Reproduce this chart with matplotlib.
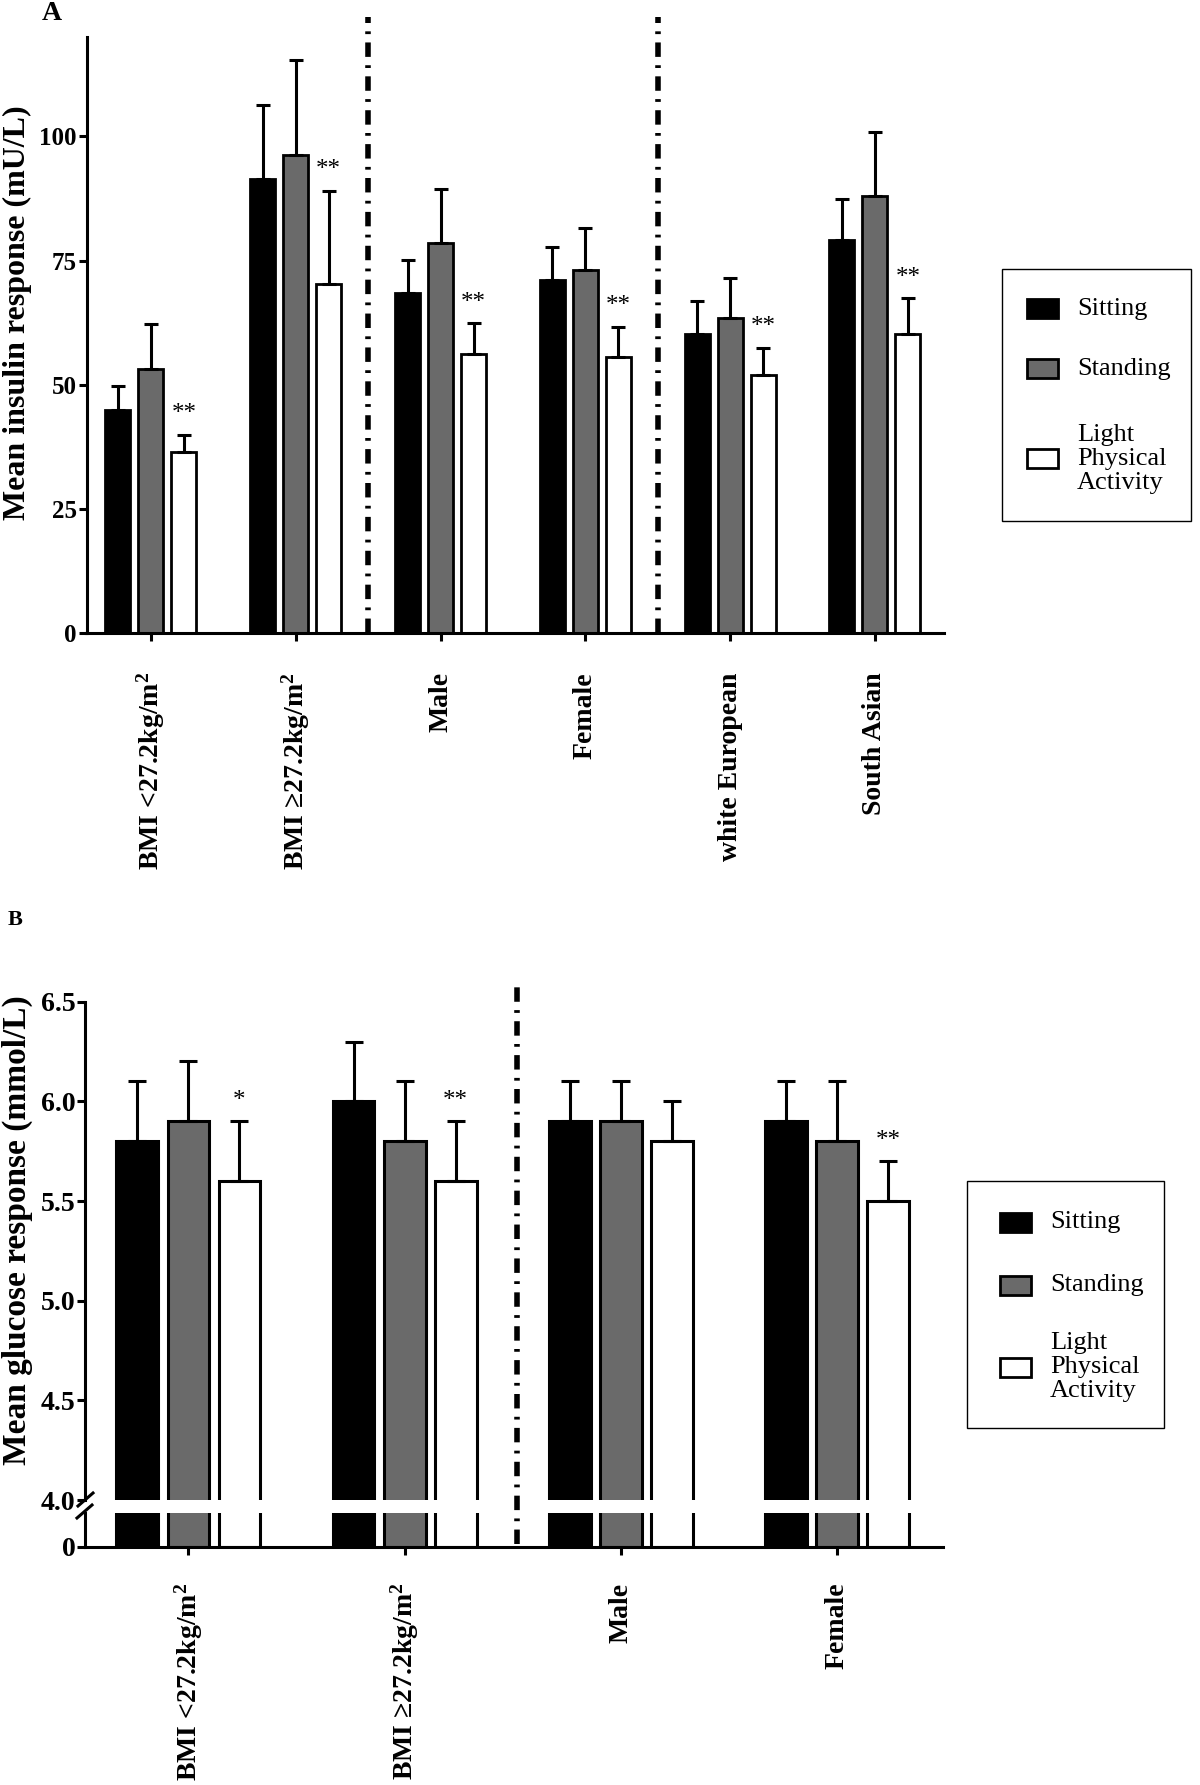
import matplotlib
matplotlib.use('Agg')
import matplotlib.pyplot as plt
import matplotlib.transforms as mtransforms
import numpy as np
from matplotlib.patches import Rectangle
from matplotlib.lines import Line2D

plt.rcParams['font.family'] = ['Liberation Serif', 'DejaVu Serif']
plt.rcParams['mathtext.fontset'] = 'custom'
plt.rcParams['mathtext.rm'] = 'Liberation Serif:bold'
plt.rcParams['mathtext.it'] = 'Liberation Serif:bold'
plt.rcParams['mathtext.bf'] = 'Liberation Serif:bold'

# ---------------- data ----------------
series = ['Sitting', 'Standing', 'Light\nPhysical\nActivity']
colors = ['#000000', '#6a6a6a', '#ffffff']

cats_a = ['BMI <27.2kg/$\\mathrm{m}^{2}$', 'BMI \u226527.2kg/$\\mathrm{m}^{2}$', 'Male', 'Female',
          'white European', 'South Asian']
insulin_sit = [45.0, 91.4, 68.5, 71.0, 60.3, 79.1]
insulin_sit_sem = [4.8, 14.9, 6.6, 6.8, 6.5, 8.2]
insulin_stand = [53.2, 96.2, 78.6, 73.1, 63.4, 88.1]
insulin_stand_sem = [9.1, 19.1, 10.8, 8.5, 8.1, 12.8]
insulin_lpa = [36.5, 70.3, 56.3, 55.7, 52.0, 60.3]
insulin_lpa_sem = [3.5, 18.8, 6.1, 6.0, 5.5, 7.1]
sig_a = ['**', '**', '**', '**', '**', '**']
yticks_a = [0, 25, 50, 75, 100]

cats_b = ['BMI <27.2kg/$\\mathrm{m}^{2}$', 'BMI \u226527.2kg/$\\mathrm{m}^{2}$', 'Male', 'Female']
glucose_sit = [5.8, 6.0, 5.9, 5.9]
glucose_sit_sem = [0.3, 0.3, 0.2, 0.2]
glucose_stand = [5.9, 5.8, 5.9, 5.8]
glucose_stand_sem = [0.3, 0.3, 0.2, 0.3]
glucose_lpa = [5.6, 5.6, 5.8, 5.5]
glucose_lpa_sem = [0.3, 0.3, 0.2, 0.2]
sig_b = ['*', '**', '', '**']
yticks_b = [4.0, 4.5, 5.0, 5.5, 6.0, 6.5]

# ---------------- layout helpers ----------------
W, H = 1200, 1785
fig = plt.figure(figsize=(W / 100, H / 100), dpi=100)


def fx(px):
    return px / W


def fy(py):
    return 1 - py / H


def rect(l, t, r, b):
    return [fx(l), fy(b), fx(r) - fx(l), fy(t) - fy(b)]


LW = 2.2
divider_style = (0, (2.6, 1.5, 0.5, 1.5))


def style_axis(ax, bottom=True):
    for s in ['top', 'right']:
        ax.spines[s].set_visible(False)
    ax.spines['left'].set_linewidth(LW)
    ax.spines['bottom'].set_linewidth(LW)
    if not bottom:
        ax.spines['bottom'].set_visible(False)
    ax.tick_params(direction='out', length=6, width=LW)
    ax.patch.set_alpha(0)


def draw_bars(ax, x, groups, off, width, edge_lw, cap, star_off, star_texts=None):
    for i, (vals, sem) in enumerate(groups):
        xs = x + (i - 1) * off
        ax.bar(xs, vals, width=width, color=colors[i], edgecolor='black',
               linewidth=edge_lw, zorder=2)
        ax.errorbar(xs, vals, yerr=[np.zeros(len(vals)), sem], fmt='none',
                    ecolor='black', elinewidth=LW, capsize=cap, capthick=LW, zorder=3)
        if star_texts is not None and i == 2:
            for xx, v, e, st in zip(xs, vals, sem, star_texts):
                if st:
                    ax.annotate(st, xy=(xx, v + e), xytext=(0, star_off),
                                textcoords='offset points', ha='center',
                                va='baseline', fontsize=18, clip_on=False)


def draw_legend(box, patch_x, text_x, centers):
    x0, y0, x1, y1 = box
    fig.add_artist(Rectangle((fx(x0), fy(y1)), fx(x1) - fx(x0), fy(y0) - fy(y1),
                             transform=fig.transFigure, fill=False,
                             edgecolor='black', linewidth=1.0))
    for name, col, cy in zip(series, colors, centers):
        fig.add_artist(Rectangle((fx(patch_x), fy(cy + 9.5)), 31 / W, 19 / H,
                                 transform=fig.transFigure, facecolor=col,
                                 edgecolor='black', linewidth=2.0))
        fig.text(fx(text_x), fy(cy), name, ha='left', va='center',
                 fontsize=19, linespacing=1.12)


# ---------------- Panel A ----------------
axA = fig.add_axes(rect(86.5, 37, 944, 633.3))
xa = np.arange(len(cats_a))
draw_bars(axA, xa,
          [(insulin_sit, insulin_sit_sem), (insulin_stand, insulin_stand_sem),
           (insulin_lpa, insulin_lpa_sem)],
          off=0.228, width=0.173, edge_lw=2.0, cap=4.7, star_off=10.5, star_texts=sig_a)
style_axis(axA)
axA.set_ylim(0, 120)
axA.set_xlim(-0.445, 5.477)
axA.set_yticks(yticks_a)
axA.set_yticklabels([str(v) for v in yticks_a], fontsize=18, fontweight='bold')
axA.tick_params(axis='y', pad=1)
axA.set_xticks(xa)
axA.set_xticklabels(cats_a, rotation=90, fontsize=20, fontweight='bold', va='top')
axA.tick_params(axis='x', pad=22)
for xd in [1.5, 3.5]:
    axA.axvline(xd, ymin=0.0, ymax=1.033, color='black', linewidth=4.0,
                linestyle=divider_style, clip_on=False, zorder=1)
fig.text(fx(17), fy(313), 'Mean insulin response (mU/L)', rotation=90,
         ha='center', va='center', fontsize=23, fontweight='bold')
fig.text(fx(52), fy(14), 'A', ha='center', va='center', fontsize=20, fontweight='bold')
draw_legend((1002, 269, 1191, 521), 1027, 1077, [309, 369, 459])

# ---------------- Panel B ----------------
axB = fig.add_axes(rect(85, 1001.7, 943, 1500))
axB0 = fig.add_axes(rect(85, 1512.7, 943, 1546.7))
xb = np.arange(len(cats_b))
groups_b = [(glucose_sit, glucose_sit_sem), (glucose_stand, glucose_stand_sem),
            (glucose_lpa, glucose_lpa_sem)]
draw_bars(axB, xb, groups_b, off=0.236, width=0.193, edge_lw=2.2, cap=6.8,
          star_off=10.5, star_texts=sig_b)
draw_bars(axB0, xb, groups_b, off=0.236, width=0.193, edge_lw=2.2, cap=6.8,
          star_off=10.5, star_texts=None)
style_axis(axB, bottom=False)
style_axis(axB0)
for ax in (axB, axB0):
    ax.set_xlim(-0.478, 3.489)
axB.set_ylim(4.0, 6.5)
axB.set_yticks(yticks_b)
axB.set_yticklabels(['%.1f' % v for v in yticks_b], fontsize=20, fontweight='bold')
axB.tick_params(axis='y', pad=1)
axB.set_xticks([])
axB0.set_ylim(0, 0.17)
axB0.set_yticks([0])
axB0.set_yticklabels(['0'], fontsize=20, fontweight='bold')
axB0.tick_params(axis='y', pad=1)
axB0.set_xticks(xb)
axB0.set_xticklabels(cats_b, rotation=90, fontsize=20, fontweight='bold', va='top')
axB0.tick_params(axis='x', pad=20)
# group divider spanning both parts of the broken axis
xdiv = 1.52
blend = mtransforms.blended_transform_factory(axB.transData, fig.transFigure)
fig.add_artist(Line2D([xdiv, xdiv], [fy(1544), fy(986)], transform=blend,
                      color='black', linewidth=4.0, linestyle=divider_style))
# axis break marks
for (x_0, y_0, x_1, y_1) in [(78, 1506, 93, 1493), (77, 1518, 92, 1505)]:
    fig.add_artist(Line2D([fx(x_0), fx(x_1)], [fy(y_0), fy(y_1)],
                          transform=fig.transFigure, color='black', linewidth=LW))
fig.text(fx(17), fy(1230), 'Mean glucose response (mmol/L)', rotation=90,
         ha='center', va='center', fontsize=24, fontweight='bold')
fig.text(fx(15), fy(920), 'B', ha='center', va='center', fontsize=16, fontweight='bold')
draw_legend((967, 1181, 1164, 1428), 1000, 1050, [1222, 1285, 1367])

fig.savefig('out.png', dpi=100)
